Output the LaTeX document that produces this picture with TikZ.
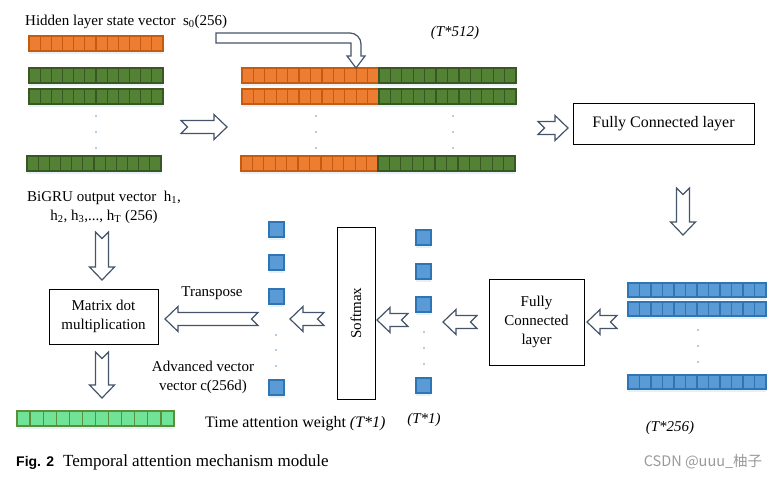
\documentclass[tikz,border=0pt]{standalone}
\usepackage{fontspec}
\setmainfont{Liberation Serif}
\newfontfamily\capsans{Liberation Sans}
\newfontfamily\cjk{Noto Sans CJK SC}
\usetikzlibrary{calc,shadows}

\definecolor{orfill}{HTML}{ED7D31}
\definecolor{orline}{HTML}{C55A11}
\definecolor{grfill}{HTML}{548235}
\definecolor{grline}{HTML}{385723}
\definecolor{blfill}{HTML}{5B9BD5}
\definecolor{blline}{HTML}{2E75B6}
\definecolor{lgfill}{HTML}{70E396}
\definecolor{lgline}{HTML}{5A8F3C}
\definecolor{arrc}{HTML}{44546A}

\tikzset{
  txt/.style={inner sep=0pt, font=\fontsize{15}{19}\selectfont},
  bigtxt/.style={inner sep=0pt, font=\fontsize{16}{19}\selectfont},
  box/.style={draw, line width=0.8pt, inner sep=0pt, align=center, font=\fontsize{15}{19}\selectfont},
  cellbar/.style={inner sep=0pt, outer sep=0pt, minimum height=15pt, line width=1.3pt, anchor=north west,
    drop shadow={shadow xshift=0pt, shadow yshift=-2.5pt, fill=blfill!25, opacity=0.6}},
  obar/.style={cellbar, fill=orfill, draw=orline},
  oline/.style={draw=orline, line width=1.3pt},
  gbar/.style={cellbar, fill=grfill, draw=grline},
  gline/.style={draw=grline, line width=1.3pt},
  bbar/.style={cellbar, fill=blfill, draw=blline, minimum height=14pt},
  bline/.style={draw=blline, line width=1.3pt},
  lbar/.style={cellbar, fill=lgfill, draw=lgline},
  lline/.style={draw=lgline, line width=1.3pt},
  bsq/.style={cellbar, fill=blfill, draw=blline, line width=1.5pt, minimum width=15pt, minimum height=15pt},
  harrow/.style={draw=arrc, fill=white, line width=1.2pt, line join=miter},
  vdot/.style={fill=blfill},
}

% one bar of 12 cells: name, x, y (top left), kind, width
\newcommand{\cellrow}[5]{%
  \node[#4bar, minimum width=#5pt] (#1) at (#2,#3) {};
  \foreach \k in {1,...,11}
    \draw[#4line] ($(#1.north west)!\k/12!(#1.north east)$) -- ($(#1.south west)!\k/12!(#1.south east)$);
}

% hollow block arrow from one coordinate to another
\newcommand{\hollow}[2]{%
  \draw[harrow] let \p1=($(#2)-(#1)$), \n1={veclen(\x1,\y1)}, \n2={atan2(\y1,\x1)} in
    [shift={(#1)}, rotate=\n2]
    (0,-6.5) -- (\n1-13,-6.5) -- (\n1-13,-12.5) -- (\n1,0) -- (\n1-13,12.5) -- (\n1-13,6.5) -- (0,6.5) -- (6.5,0) -- cycle;
}

\begin{document}
\begin{tikzpicture}[x=1pt,y=-1pt]
\useasboundingbox (0,0) rectangle (778,479);

% input vectors
\node[txt, anchor=base west] (hid) at (25,25) {Hidden layer state vector\ \ s\textsubscript{0}(256)};
\cellrow{s0}{29}{36}{o}{134}
\cellrow{h1}{29}{68}{g}{134}
\cellrow{h2}{29}{89}{g}{134}
\cellrow{hT}{27}{156}{g}{134}
\foreach \yy in {116,132,148} \fill[vdot] (96,\yy) circle (0.8);

% concatenated matrix
\cellrow{c1o}{242}{68}{o}{137}
\cellrow{c1g}{379}{68}{g}{137}
\cellrow{c2o}{242}{89}{o}{137}
\cellrow{c2g}{379}{89}{g}{137}
\cellrow{cTo}{241}{156}{o}{137}
\cellrow{cTg}{378}{156}{g}{137}
\foreach \yy in {116,132,148} {
  \fill[vdot] (316,\yy) circle (0.8);
  \fill[vdot] (453,\yy) circle (0.8);
}
\node[txt, font=\fontsize{15}{19}\selectfont\itshape] (d512) at (455,33) {(T*512)};

% s0 copied into every row
\draw[harrow] (216,33) -- (350,33) .. controls (356,33) and (361,38) .. (361,44) -- (361,56) -- (365,56)
  -- (356,68) -- (347,56) -- (351,56) -- (351,43) -- (216,43) -- cycle;

\coordinate (a1s) at (181,127); \coordinate (a1e) at (227,127);
\hollow{a1s}{a1e}

% first fully connected layer
\node[box, font=\fontsize{16}{19}\selectfont, minimum width=181pt, minimum height=41pt] (fc1) at (663.5,123.5) {Fully Connected layer};
\coordinate (a2s) at (538,128); \coordinate (a2e) at (568,128);
\hollow{a2s}{a2e}
\coordinate (a3s) at (683,188); \coordinate (a3e) at (683,235);
\hollow{a3s}{a3e}

% T*256 output
\cellrow{r1}{628}{283}{b}{138}
\cellrow{r2}{628}{302}{b}{138}
\cellrow{rT}{628}{375}{b}{138}
\foreach \yy in {330,346,362} \fill[vdot] (698,\yy) circle (0.8);
\node[txt, font=\fontsize{15}{19}\selectfont\itshape] (d256) at (670,428) {(T*256)};

% second fully connected layer
\node[box, minimum width=95pt, minimum height=86pt] (fc2) at (536.5,322) {Fully\\Connected\\layer};
\coordinate (a4s) at (617,322); \coordinate (a4e) at (587,322);
\hollow{a4s}{a4e}
\coordinate (a5s) at (477,322); \coordinate (a5e) at (443,322);
\hollow{a5s}{a5e}

% scores T*1
\foreach \yy [count=\n] in {230,264,297,378} \node[bsq] (sc\n) at (416,\yy) {};
\foreach \yy in {332,348,364} \fill[vdot] (424,\yy) circle (0.8);
\node[txt, font=\fontsize{15}{19}\selectfont\itshape] (d1) at (424,420) {(T*1)};
\coordinate (a6s) at (408,320); \coordinate (a6e) at (377,320);
\hollow{a6s}{a6e}

% softmax
\node[box, minimum width=38pt, minimum height=172pt] (sm) at (356,313) {};
\node[txt, rotate=90] (smtxt) at (sm.center) {Softmax};
\coordinate (a7s) at (324,319); \coordinate (a7e) at (290,319);
\hollow{a7s}{a7e}

% attention weights T*1
\foreach \yy [count=\n] in {222,255,289,380} \node[bsq] (wt\n) at (269,\yy) {};
\foreach \yy in {335,350,366} \fill[vdot] (276,\yy) circle (0.8);
\node[bigtxt, anchor=base west] (wtxt) at (205,427) {Time attention weight \textit{(T*1)}};

% transpose and product
\coordinate (a8s) at (258,319); \coordinate (a8e) at (165,319);
\hollow{a8s}{a8e}
\node[txt] (tr) at (212,293) {Transpose};
\node[box, minimum width=109pt, minimum height=55pt] (mdm) at (103.5,316.5) {Matrix dot\\multiplication};
\node[txt, align=center] (bigru) at (104,207) {BiGRU output vector\ \ h\textsubscript{1},\\h\textsubscript{2}, h\textsubscript{3},..., h\textsubscript{T} (256)};
\coordinate (a9s) at (102,232); \coordinate (a9e) at (102,280);
\hollow{a9s}{a9e}
\coordinate (a10s) at (102,352); \coordinate (a10e) at (102,398);
\hollow{a10s}{a10e}
\node[txt, align=center] (adv) at (203,377) {Advanced vector\\vector c(256d)};
\cellrow{cv}{17}{411}{l}{157}

% caption
\node[inner sep=0pt, anchor=base west] (cap) at (16,466)
  {{\capsans\bfseries\fontsize{14}{16}\selectfont Fig. 2}\hspace{9pt}{\fontsize{17}{18}\selectfont Temporal attention mechanism module}};
\node[inner sep=0pt, text=black!40, font=\cjk\fontsize{14.5}{16}\selectfont] (mark) at (703,462) {CSDN @uuu\_柚子};
\end{tikzpicture}
\end{document}
